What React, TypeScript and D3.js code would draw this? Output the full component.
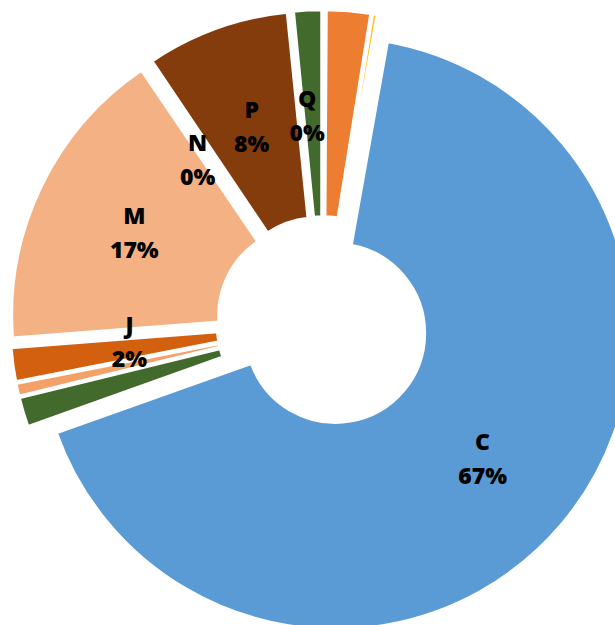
import React from "react";
import * as d3 from "d3";

// Slices clockwise from 12 o'clock (values in %)
const categories = ["gap", "A", "B", "C", "D", "E", "J", "M", "N", "P", "Q", "R"];
const values = [0.1, 2.43, 0.27, 66.75, 1.64, 0.72, 1.86, 16.75, 0.05, 7.83, 0.05, 1.55];
const colors = ["none", "#ED7D31", "#FFC000", "#5B9BD5", "#426A2D", "#F3A169", "#D2600F", "#F4B183", "#F4B183", "#843C0C", "#426A2D", "#426A2D"];
const showLabel = [false, false, false, true, false, false, true, true, true, true, true, false];

const W = 615;
const H = 625;
const CX = 322.8;
const CY = 322.5;
const R_OUT = 296.5;
const R_IN = 89;
const EXPLODE = 16.5;
const LABEL_R = (R_IN + R_OUT) / 2;
// manual label adjustments (as moved in the original chart)
const LABEL_NUDGE: Record<string, [number, number]> = { J: [14, -10], N: [-8, 10], Q: [5, 1] };

export default function App() {
  const data = categories.map((c, i) => ({ name: c, value: values[i], color: colors[i], label: showLabel[i] }));
  const total = d3.sum(values);
  const pie = d3
    .pie<any>()
    .sort(null)
    .value((d) => d.value)
    .startAngle(0)
    .endAngle(2 * Math.PI);
  const arcs = pie(data);
  const arcGen = d3.arc<any>().innerRadius(R_IN).outerRadius(R_OUT);

  return (
    <svg
      width={W}
      height={H}
      style={{ position: "absolute", left: 0, top: 0, background: "#fff" }}
      fontFamily="'Open Sans', sans-serif"
    >
      <g transform={`translate(${CX},${CY})`}>
        {arcs.map((a, i) => {
          const mid = (a.startAngle + a.endAngle) / 2;
          const dx = EXPLODE * Math.sin(mid);
          const dy = -EXPLODE * Math.cos(mid);
          if (a.data.color === "none") return null;
          return (
            <path
              key={i}
              d={arcGen(a) as string}
              transform={`translate(${dx},${dy})`}
              fill={a.data.color}
              stroke="#fff"
              strokeWidth={3.5}
              strokeLinejoin="round"
            />
          );
        })}
        {arcs.map((a, i) => {
          if (!a.data.label) return null;
          const mid = (a.startAngle + a.endAngle) / 2;
          const nudge = LABEL_NUDGE[a.data.name] || [0, 0];
          const x = (EXPLODE + LABEL_R) * Math.sin(mid) + nudge[0];
          const y = -(EXPLODE + LABEL_R) * Math.cos(mid) + nudge[1];
          const pct = Math.round((a.data.value / total) * 100) + "%";
          return (
            <g key={"l" + i} transform={`translate(${x},${y})`} fontWeight={800} fontSize={23} fill="#000" textAnchor="middle">
              <text y={-17} dominantBaseline="central">{a.data.name}</text>
              <text y={17} dominantBaseline="central">{pct}</text>
            </g>
          );
        })}
      </g>
    </svg>
  );
}
